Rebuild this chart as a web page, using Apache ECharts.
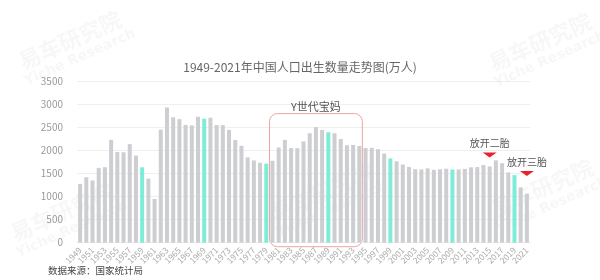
<!DOCTYPE html>
<html><head><meta charset="utf-8">
<script src="https://cdn.jsdelivr.net/npm/echarts@6/dist/echarts.min.js"></script>
<style>html,body{margin:0;padding:0;background:#fff}#c{width:600px;height:280px}</style>
</head><body><div id="c"></div>
<script>
var years = [];
for (var y = 1949; y <= 2021; y++) years.push(String(y));
var births = [1275,1419,1349,1622,1637,2232,1965,1961,2138,1889,1635,1389,949,2451,2934,2721,2679,2554,2543,2731,2690,2710,2551,2550,2447,2226,2102,1849,1783,1733,1715,1776,2064,2230,2052,2050,2196,2374,2508,2445,2396,2374,2250,2113,2120,2098,2052,2057,2028,1934,1827,1765,1696,1641,1594,1588,1612,1581,1591,1604,1587,1588,1600,1635,1640,1683,1655,1786,1723,1523,1465,1200,1062];
var highlightYears = ['1959','1969','1979','1989','1999','2009','2019'];
var yTicks = [0,500,1000,1500,2000,2500,3000,3500];
var policyMarks = [{name:'放开二胎', year:'2015', value:1900},{name:'放开三胎', year:'2021', value:1500}];
var genY = {label:'Y世代宝妈', from:'1980', to:'1994', top:2800};

(function(){
var FONT = '"Noto Sans CJK SC","Noto Sans",sans-serif';
var chart = echarts.init(document.getElementById('c'), null, {renderer:'canvas'});

function watermark(x, y) {
  return {type:'group', x:x, y:y, rotation:Math.PI/7.5, silent:true, z:100, children:[
    {type:'text', x:0, y:0, style:{text:'易车研究院', font:'bold 22px '+FONT, fill:'rgba(180,180,180,0.1)', textAlign:'center', textVerticalAlign:'middle'}},
    {type:'text', x:2, y:20, style:{text:'Yiche Research', font:'bold 14px "DejaVu Sans",sans-serif', fill:'rgba(180,180,180,0.1)', textAlign:'center', textVerticalAlign:'middle'}}
  ]};
}

var option = {
  backgroundColor:'#fff',
  animation:false,
  textStyle:{fontFamily:FONT},
  title:{text:'1949-2021年中国人口出生数量走势图(万人)', left:'center', top:56, textStyle:{fontSize:12, fontWeight:'normal', color:'#666', fontFamily:FONT}},
  grid:{left:77, right:70, top:81.3, bottom:37.3},
  xAxis:{type:'category', data:years,
    axisLine:{show:true, lineStyle:{color:'#eee'}}, axisTick:{show:false},
    axisLabel:{interval:1, rotate:45, fontSize:8.5, color:'#aaa', margin:6, fontFamily:FONT}},
  yAxis:{type:'value', min:0, max:3500, interval:500,
    axisLine:{show:false}, axisTick:{show:false},
    axisLabel:{fontSize:10, color:'#999', margin:14, fontFamily:FONT, formatter:function(v){return String(v);}},
    splitLine:{lineStyle:{color:'#efefef'}}},
  series:[{type:'bar', barWidth:4,
    data:births.map(function(v,i){
      return {value:v, itemStyle:{color: highlightYears.indexOf(years[i])>=0 ? '#7eecd8' : '#cdced1'}};
    }),
    markPoint:{symbol:'triangle', symbolRotate:180, symbolSize:[14,5], silent:true,
      itemStyle:{color:'#e8232b'},
      label:{show:true, position:'top', distance:4, color:'#555', fontSize:10, fontFamily:FONT, formatter:function(p){return p.name;}},
      data:policyMarks.map(function(m){return {name:m.name, coord:[m.year, m.value]};})}
  }]
};
chart.setOption(option);

var p1 = chart.convertToPixel({gridIndex:0}, [genY.from, 0]);
var p2 = chart.convertToPixel({gridIndex:0}, [genY.to, 0]);
var pt = chart.convertToPixel({gridIndex:0}, [genY.from, genY.top]);
var rl = p1[0]-3, rr = p2[0]+3, rt = pt[1], rb = p1[1]+4;
chart.setOption({graphic:[
  {type:'rect', shape:{x:rl, y:rt, width:rr-rl, height:rb-rt, r:8}, style:{fill:'none', stroke:'#f0a3a3', lineWidth:1}, silent:true},
  {type:'text', x:(rl+rr)/2, y:rt-7, style:{text:genY.label, font:'11px '+FONT, fill:'#555', textAlign:'center', textVerticalAlign:'middle'}},
  {type:'text', x:48, y:266, style:{text:'数据来源：国家统计局', font:'9.5px '+FONT, fill:'#444'}},
  watermark(70,40), watermark(540,42), watermark(62,212), watermark(322,192), watermark(542,188)
]});
})();
</script></body></html>
